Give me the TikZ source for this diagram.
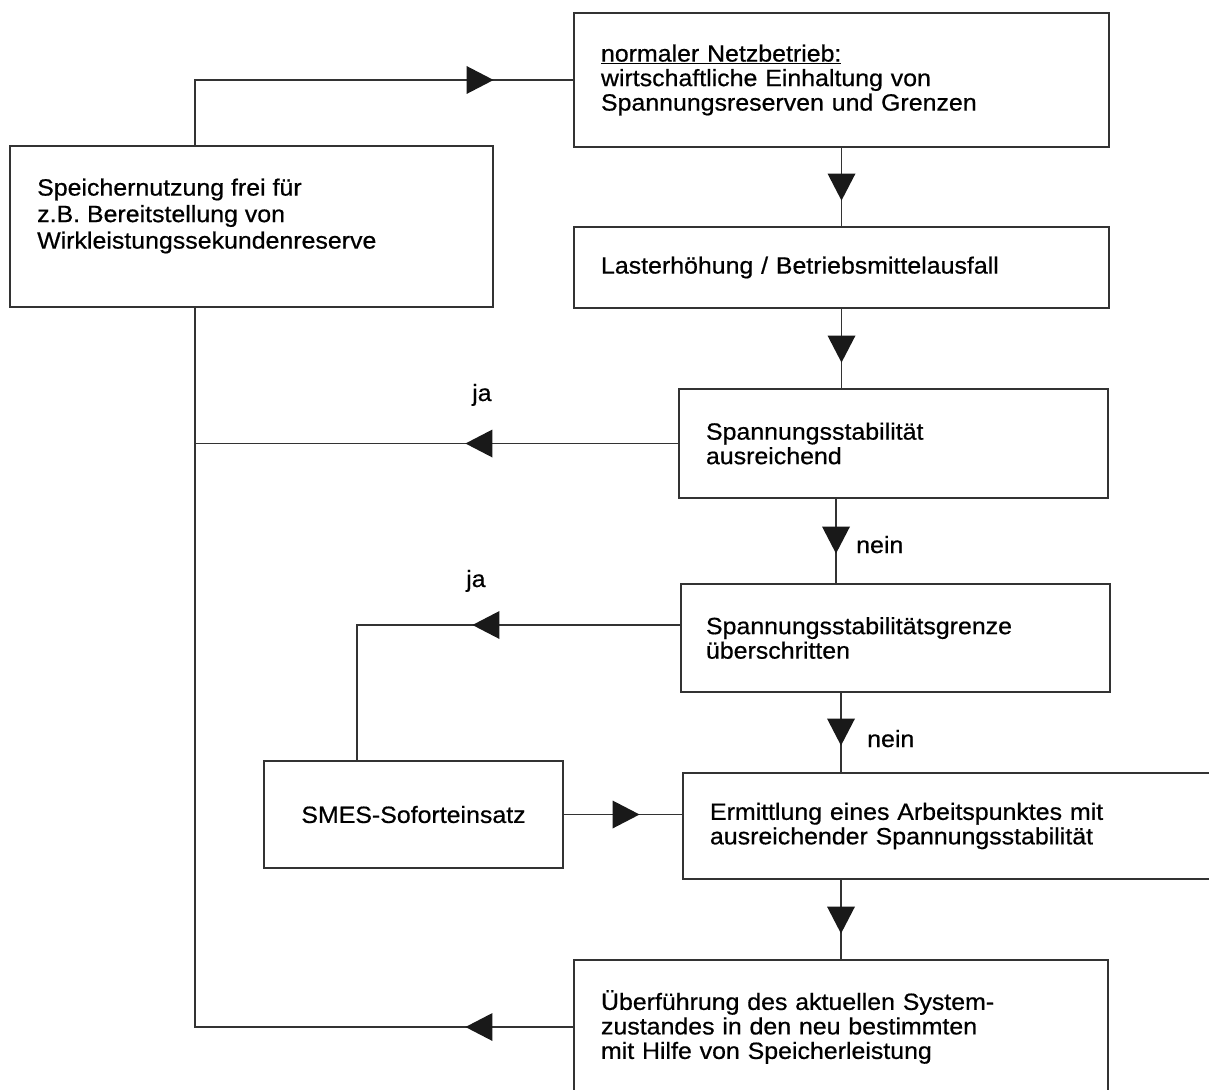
\documentclass[tikz,border=0pt]{standalone}
\usepackage{fontspec}
\setmainfont{Liberation Sans}[FakeBold=0.6,FakeStretch=1.06]
\usetikzlibrary{arrows.meta,decorations.markings}
\begin{document}
\begin{tikzpicture}[x=1pt,y=-1pt,
  ln/.style={draw=black!80, line width=1.1pt},
  txt/.style={font=\fontsize{23.5}{24.5}\selectfont},
  box/.style={ln, rectangle, txt, inner ysep=0pt, inner xsep=#1, align=left},
  conn/.style={ln, postaction={decorate, decoration={markings,
     mark=at position #1 with {\arrow{Triangle[length=27pt,width=28pt,fill=black!90,line width=0pt]}}}}},
  lbl/.style={txt, inner sep=0pt, anchor=base west}]
\useasboundingbox (0,0) rectangle (1209,1089);
\fill[white] (0,0) rectangle (1209,1089);
\clip (0,0) rectangle (1209,1089);

% boxes
\node[box=27pt, minimum width=535pt, minimum height=134pt, text width=481pt] (T) at (841.5,80)
  {\underline{normaler Netzbetrieb:}\\wirtschaftliche Einhaltung von\\Spannungsreserven und Grenzen};
\node[box=27pt, minimum width=535pt, minimum height=81pt, text width=481pt] (B2) at (841.5,267.5)
  {Lasterhöhung / Betriebsmittelausfall};
\node[box=27pt, minimum width=429pt, minimum height=109pt, text width=375pt] (B3) at (893.5,443.5)
  {Spannungsstabilität\\ausreichend};
\node[box=25pt, minimum width=429pt, minimum height=108pt, text width=379pt] (B4) at (895.5,638)
  {Spannungsstabilitätsgrenze\\überschritten};
\node[box=27pt, minimum width=557pt, minimum height=106pt, text width=503pt] (E) at (961.5,826)
  {Ermittlung eines Arbeitspunktes mit\\ausreichender Spannungsstabilität};
\node[box=27pt, minimum width=534pt, minimum height=134pt, text width=480pt] (F) at (841,1027)
  {Überführung des aktuellen System-\\zustandes in den neu bestimmten\\mit Hilfe von Speicherleistung};
\node[box=0pt, minimum width=483pt, minimum height=161pt] (L) at (251.5,226.5) {};
\node[txt, font=\fontsize{23.5}{26.5}\selectfont, inner sep=0pt, anchor=west, align=left] (Ltxt) at (37,216)
  {Speichernutzung frei für\\z.B. Bereitstellung von\\Wirkleistungssekundenreserve};
\node[box=0pt, minimum width=299pt, minimum height=107pt, align=center] (S) at (413.5,814.5)
  {SMES-Soforteinsatz};

% helper coordinates
\coordinate (bus) at ([xshift=-56.5pt]L.south);
\coordinate (busT) at ([xshift=-56.5pt]L.north);
\coordinate (n1) at ([xshift=-57.5pt]B3.south);
\coordinate (n2) at ([xshift=-54.5pt]B4.south);
\coordinate (sj) at ([xshift=-56.5pt]S.north);

% connectors
\draw[conn=364pt] (busT) |- (T.west);
\draw[conn=53pt] (T.south) -- (B2.north);
\draw[conn=54pt] (B2.south) -- (B2.south |- B3.north);
\draw[conn=213pt] (B3.west) -- (B3.west -| bus);
\draw[conn=55pt] (n1) -- (n1 |- B4.north);
\draw[conn=208pt] ([yshift=13pt]B4.west) -| (sj);
\draw[conn=53pt] (n2) -- (n2 |- E.north);
\draw[conn=76pt] (S.east) -- (S.east -| E.west);
\draw[conn=54pt] (F.north |- E.south) -- (F.north);
\draw[conn=108pt] (F.west) -| (bus);

% labels
\node[lbl] (ja1) at (472,401) {ja};
\node[lbl] (ja2) at (466,587) {ja};
\node[lbl] (nein1) at (856,553) {nein};
\node[lbl] (nein2) at (867,747) {nein};
\end{tikzpicture}
\end{document}
